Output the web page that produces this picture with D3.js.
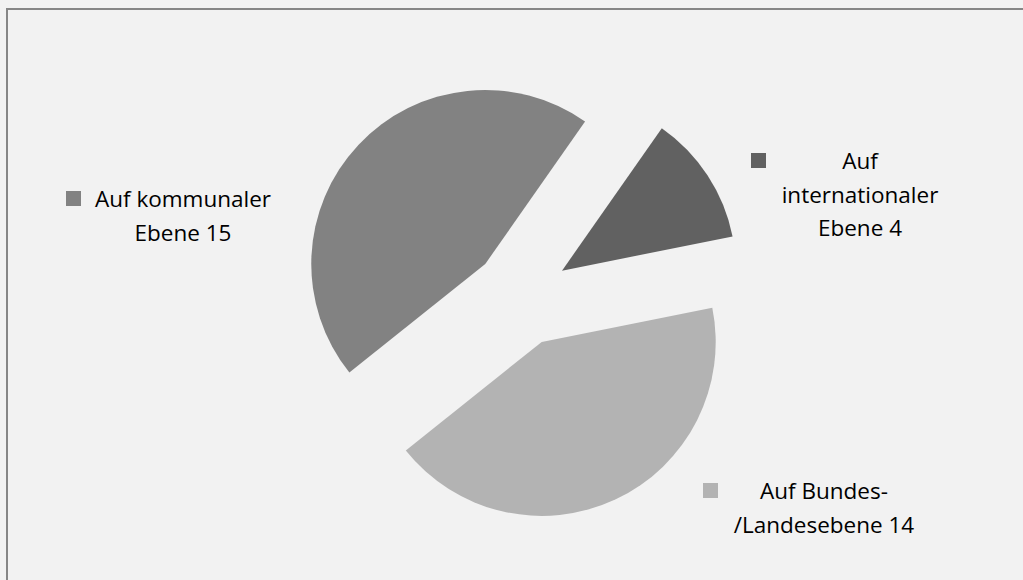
<!DOCTYPE html>
<html lang="de">
  <head>
    <meta charset="utf-8">
    <title>Ebenen</title>
    <script src="https://d3js.org/d3.v7.min.js"></script>
    <style>
      body { margin: 0; background: #f2f2f2; }
      text { font-family: 'Open Sans', Lato, sans-serif; fill: #000; }
    </style>
  </head>
  <body>
    <div id="grafik"></div>
    <script>
      // Daten
      const kategorien = ['Auf internationaler Ebene', 'Auf Bundes-/Landesebene', 'Auf kommunaler Ebene']
      const werte = [4, 14, 15]
      const legendenZeilen = [
        ['Auf', 'internationaler', 'Ebene 4'],
        ['Auf Bundes-', '/Landesebene 14'],
        ['Auf kommunaler', 'Ebene 15']
      ]
      const farben = ['#616161', '#b3b3b3', '#828282']

      const breite = 1023,
            hoehe = 580,
            mitte = { x: 521, y: 297.5 },
            radius = 174,
            abstand = 49,
            start = 35 * Math.PI / 180

      // Legendenposition (Quadrat oben links, Textmitte)
      const legendenPos = [
        { qx: 751, qy: 153, tx: 860 },
        { qx: 703, qy: 483, tx: 824 },
        { qx: 66, qy: 191, tx: 183 }
      ]

      const svg = d3.select('#grafik')
        .append('svg')
          .attr('width', breite)
          .attr('height', hoehe)

      svg.append('rect')
        .attr('x', 7)
        .attr('y', 9)
        .attr('width', breite + 20)
        .attr('height', hoehe + 20)
        .attr('fill', '#f2f2f2')
        .attr('stroke', '#868686')
        .attr('stroke-width', 2)

      const torte = d3.pie()
        .sort(null)
        .value(d => d)
        .startAngle(start)
        .endAngle(start + 2 * Math.PI)

      const bogen = d3.arc()
        .innerRadius(0)
        .outerRadius(radius)

      const kreis = svg.append('g')
        .attr('transform', `translate(${mitte.x}, ${mitte.y})`)

      kreis.selectAll('path')
        .data(torte(werte))
        .join('path')
          .attr('d', bogen)
          .attr('fill', (d, i) => farben[i])
          .attr('transform', d => {
            const m = (d.startAngle + d.endAngle) / 2
            return `translate(${Math.sin(m) * abstand}, ${-Math.cos(m) * abstand})`
          })

      const legende = svg.selectAll('g.legende')
        .data(kategorien)
        .join('g')
          .attr('class', 'legende')

      legende.append('rect')
        .attr('x', (d, i) => legendenPos[i].qx)
        .attr('y', (d, i) => legendenPos[i].qy)
        .attr('width', 15)
        .attr('height', 15)
        .attr('fill', (d, i) => farben[i])

      legende.each(function (d, i) {
        const p = legendenPos[i]
        d3.select(this).selectAll('text')
          .data(legendenZeilen[i])
          .join('text')
            .attr('x', p.tx)
            .attr('y', (z, j) => p.qy + 16 + j * 33.5)
            .attr('text-anchor', 'middle')
            .attr('font-size', 22.5)
            .text(z => z)
      })
    </script>
  </body>
</html>
